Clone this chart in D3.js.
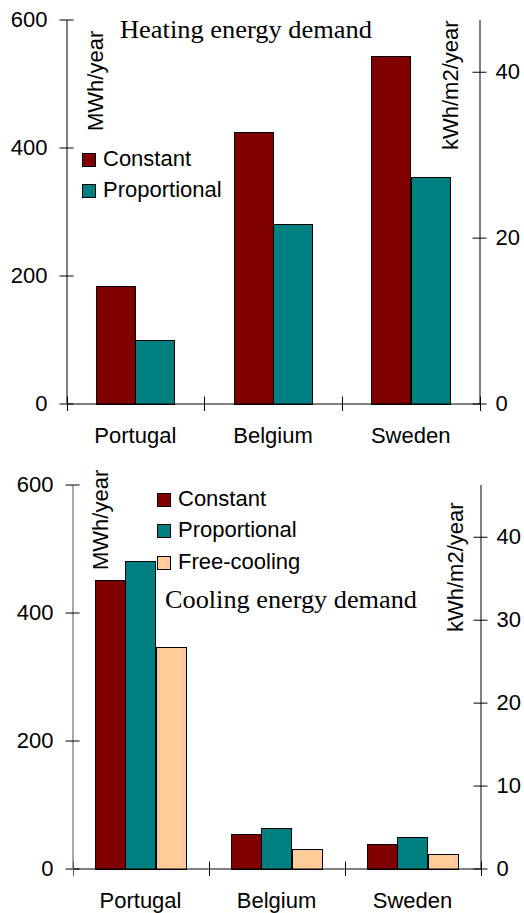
<!DOCTYPE html>
<html>
<head>
<meta charset="utf-8">
<script src="https://cdn.jsdelivr.net/npm/d3@7"></script>
<style>
  html, body { margin: 0; padding: 0; background: #fff; }
  svg { display: block; }
  .sans { font-family: "Liberation Sans", Arial, sans-serif; }
  .serif { font-family: "Liberation Serif", "Times New Roman", serif; }
</style>
</head>
<body>
<svg id="chart" width="524" height="913"></svg>
<script>
// Annual energy demand per country and control strategy (MWh/year)
const categories = ["Portugal", "Belgium", "Sweden"];

const heatingConstant     = [183, 425, 543];
const heatingProportional = [99, 281, 354];

const coolingConstant     = [451, 54, 39];
const coolingProportional = [480, 64, 49];
const coolingFreeCooling  = [346, 31, 22];

// Axis ticks
const leftTicks = [0, 200, 400, 600];
const heatingRightTicks = [0, 20, 40];
const coolingRightTicks = [0, 10, 20, 30, 40];

// Specific demand scale: MWh/year → kWh/m2/year (same floor area in both panels)
const leftMax = 600;
const rightMax = 46.3;

const seriesColors = {
  "Constant": "#800000",
  "Proportional": "#008080",
  "Free-cooling": "#FFCC99"
};

const sansFont = "'Liberation Sans', Arial, sans-serif";

const svg = d3.select("#chart");
svg.append("rect").attr("width", 524).attr("height", 913).attr("fill", "#fff");

function drawPanel(p) {
  const g = svg.append("g");

  const x0 = d3.scaleBand()
    .domain(categories)
    .range([p.left, p.right])
    .paddingInner(p.pad)
    .paddingOuter(p.pad / 2);

  const x1 = d3.scaleBand()
    .domain(p.series.map(s => s.name))
    .range([0, x0.bandwidth()]);

  const yL = d3.scaleLinear().domain([0, leftMax]).range([p.base, p.top]);
  const yR = d3.scaleLinear().domain([0, rightMax]).range([p.base, p.top]);

  // bars
  p.series.forEach(s => {
    g.append("g").selectAll("rect")
      .data(s.values.map((v, i) => ({ cat: categories[i], v })))
      .join("rect")
      .attr("x", d => Math.round(x0(d.cat) + x1(s.name)) + 0.5)
      .attr("y", d => Math.round(yL(d.v)) + 0.5)
      .attr("width", Math.round(x1.bandwidth()))
      .attr("height", d => Math.round(p.base) - Math.round(yL(d.v)))
      .attr("fill", seriesColors[s.name])
      .attr("stroke", "#000")
      .attr("stroke-width", 1);
  });

  // left axis
  const axL = g.append("g")
    .attr("transform", `translate(${p.left},0)`)
    .call(d3.axisLeft(yL).tickValues(leftTicks).tickSizeInner(7).tickSizeOuter(0).tickPadding(12));
  axL.select(".domain").attr("stroke", p.leftAxisColor);
  axL.selectAll(".tick line").attr("x1", -7).attr("x2", 7).attr("stroke", "#000");
  axL.selectAll(".tick text").attr("font-size", 22).attr("fill", "#000")
    .attr("font-family", sansFont);

  // right axis
  const axR = g.append("g")
    .attr("transform", `translate(${p.right},0)`)
    .call(d3.axisRight(yR).tickValues(p.rightTicks).tickSizeInner(7).tickSizeOuter(0).tickPadding(9));
  axR.select(".domain").attr("stroke", "#000");
  axR.selectAll(".tick line").attr("x1", -7).attr("x2", 7).attr("stroke", "#000");
  axR.selectAll(".tick text").attr("font-size", 22).attr("fill", "#000")
    .attr("font-family", sansFont);

  // category axis
  const axB = g.append("g")
    .attr("transform", `translate(0,${p.base})`)
    .call(d3.axisBottom(x0).tickSize(0).tickPadding(23.5));
  axB.select(".domain").attr("stroke", "#000");
  axB.selectAll(".tick text").attr("font-size", 22).attr("fill", "#000")
    .attr("font-family", sansFont);

  // category boundary marks
  const bounds = [p.left].concat(categories.map(c => x0(c) + x0.bandwidth() + x0.step() * p.pad / 2));
  g.append("g").selectAll("line")
    .data(bounds)
    .join("line")
    .attr("x1", d => Math.round(d) + p.lineOffset)
    .attr("x2", d => Math.round(d) + p.lineOffset)
    .attr("y1", p.base - 7)
    .attr("y2", p.base + 7.5)
    .attr("stroke", d => d === p.left ? p.leftAxisColor : "#000");

  // axis titles
  g.append("text")
    .attr("class", "sans")
    .attr("transform", `translate(${p.leftTitle[0]},${p.leftTitle[1]}) rotate(-90)`)
    .attr("font-size", 22)
    .text("MWh/year");
  g.append("text")
    .attr("class", "sans")
    .attr("transform", `translate(${p.rightTitle[0]},${p.rightTitle[1]}) rotate(-90)`)
    .attr("font-size", 22)
    .text("kWh/m2/year");

  // chart title
  g.append("text")
    .attr("class", "serif")
    .attr("x", p.title[0])
    .attr("y", p.title[1])
    .attr("font-size", 25.5)
    .attr("textLength", p.titleWidth)
    .attr("lengthAdjust", "spacingAndGlyphs")
    .text(p.titleText);

  // legend
  const lg = g.append("g");
  p.series.forEach((s, i) => {
    const ly = p.legend[1] + i * p.legendStep;
    lg.append("rect")
      .attr("x", p.legend[0] + 0.5)
      .attr("y", Math.round(ly - 13) + 0.5)
      .attr("width", 13)
      .attr("height", 13)
      .attr("fill", seriesColors[s.name])
      .attr("stroke", "#000");
    lg.append("text")
      .attr("class", "sans")
      .attr("x", p.legend[0] + 21)
      .attr("y", ly)
      .attr("font-size", 22)
      .text(s.name);
  });
}

drawPanel({
  left: 66.5, right: 479.5, base: 403.5, top: 19.5, pad: 0.43,
  lineOffset: 0.5,
  leftAxisColor: "#000",
  rightTicks: heatingRightTicks,
  series: [
    { name: "Constant", values: heatingConstant },
    { name: "Proportional", values: heatingProportional }
  ],
  leftTitle: [102.5, 131],
  rightTitle: [458, 150],
  title: [120, 38], titleWidth: 252, titleText: "Heating energy demand",
  legend: [82, 166], legendStep: 31
});

drawPanel({
  left: 72.5, right: 480.5, base: 868.5, top: 484.5, pad: 0.33,
  lineOffset: 0.5,
  leftAxisColor: "#555",
  rightTicks: coolingRightTicks,
  series: [
    { name: "Constant", values: coolingConstant },
    { name: "Proportional", values: coolingProportional },
    { name: "Free-cooling", values: coolingFreeCooling }
  ],
  leftTitle: [108, 570],
  rightTitle: [463, 632],
  title: [165, 608], titleWidth: 252, titleText: "Cooling energy demand",
  legend: [157, 505.5], legendStep: 31.5
});
</script>
</body>
</html>
